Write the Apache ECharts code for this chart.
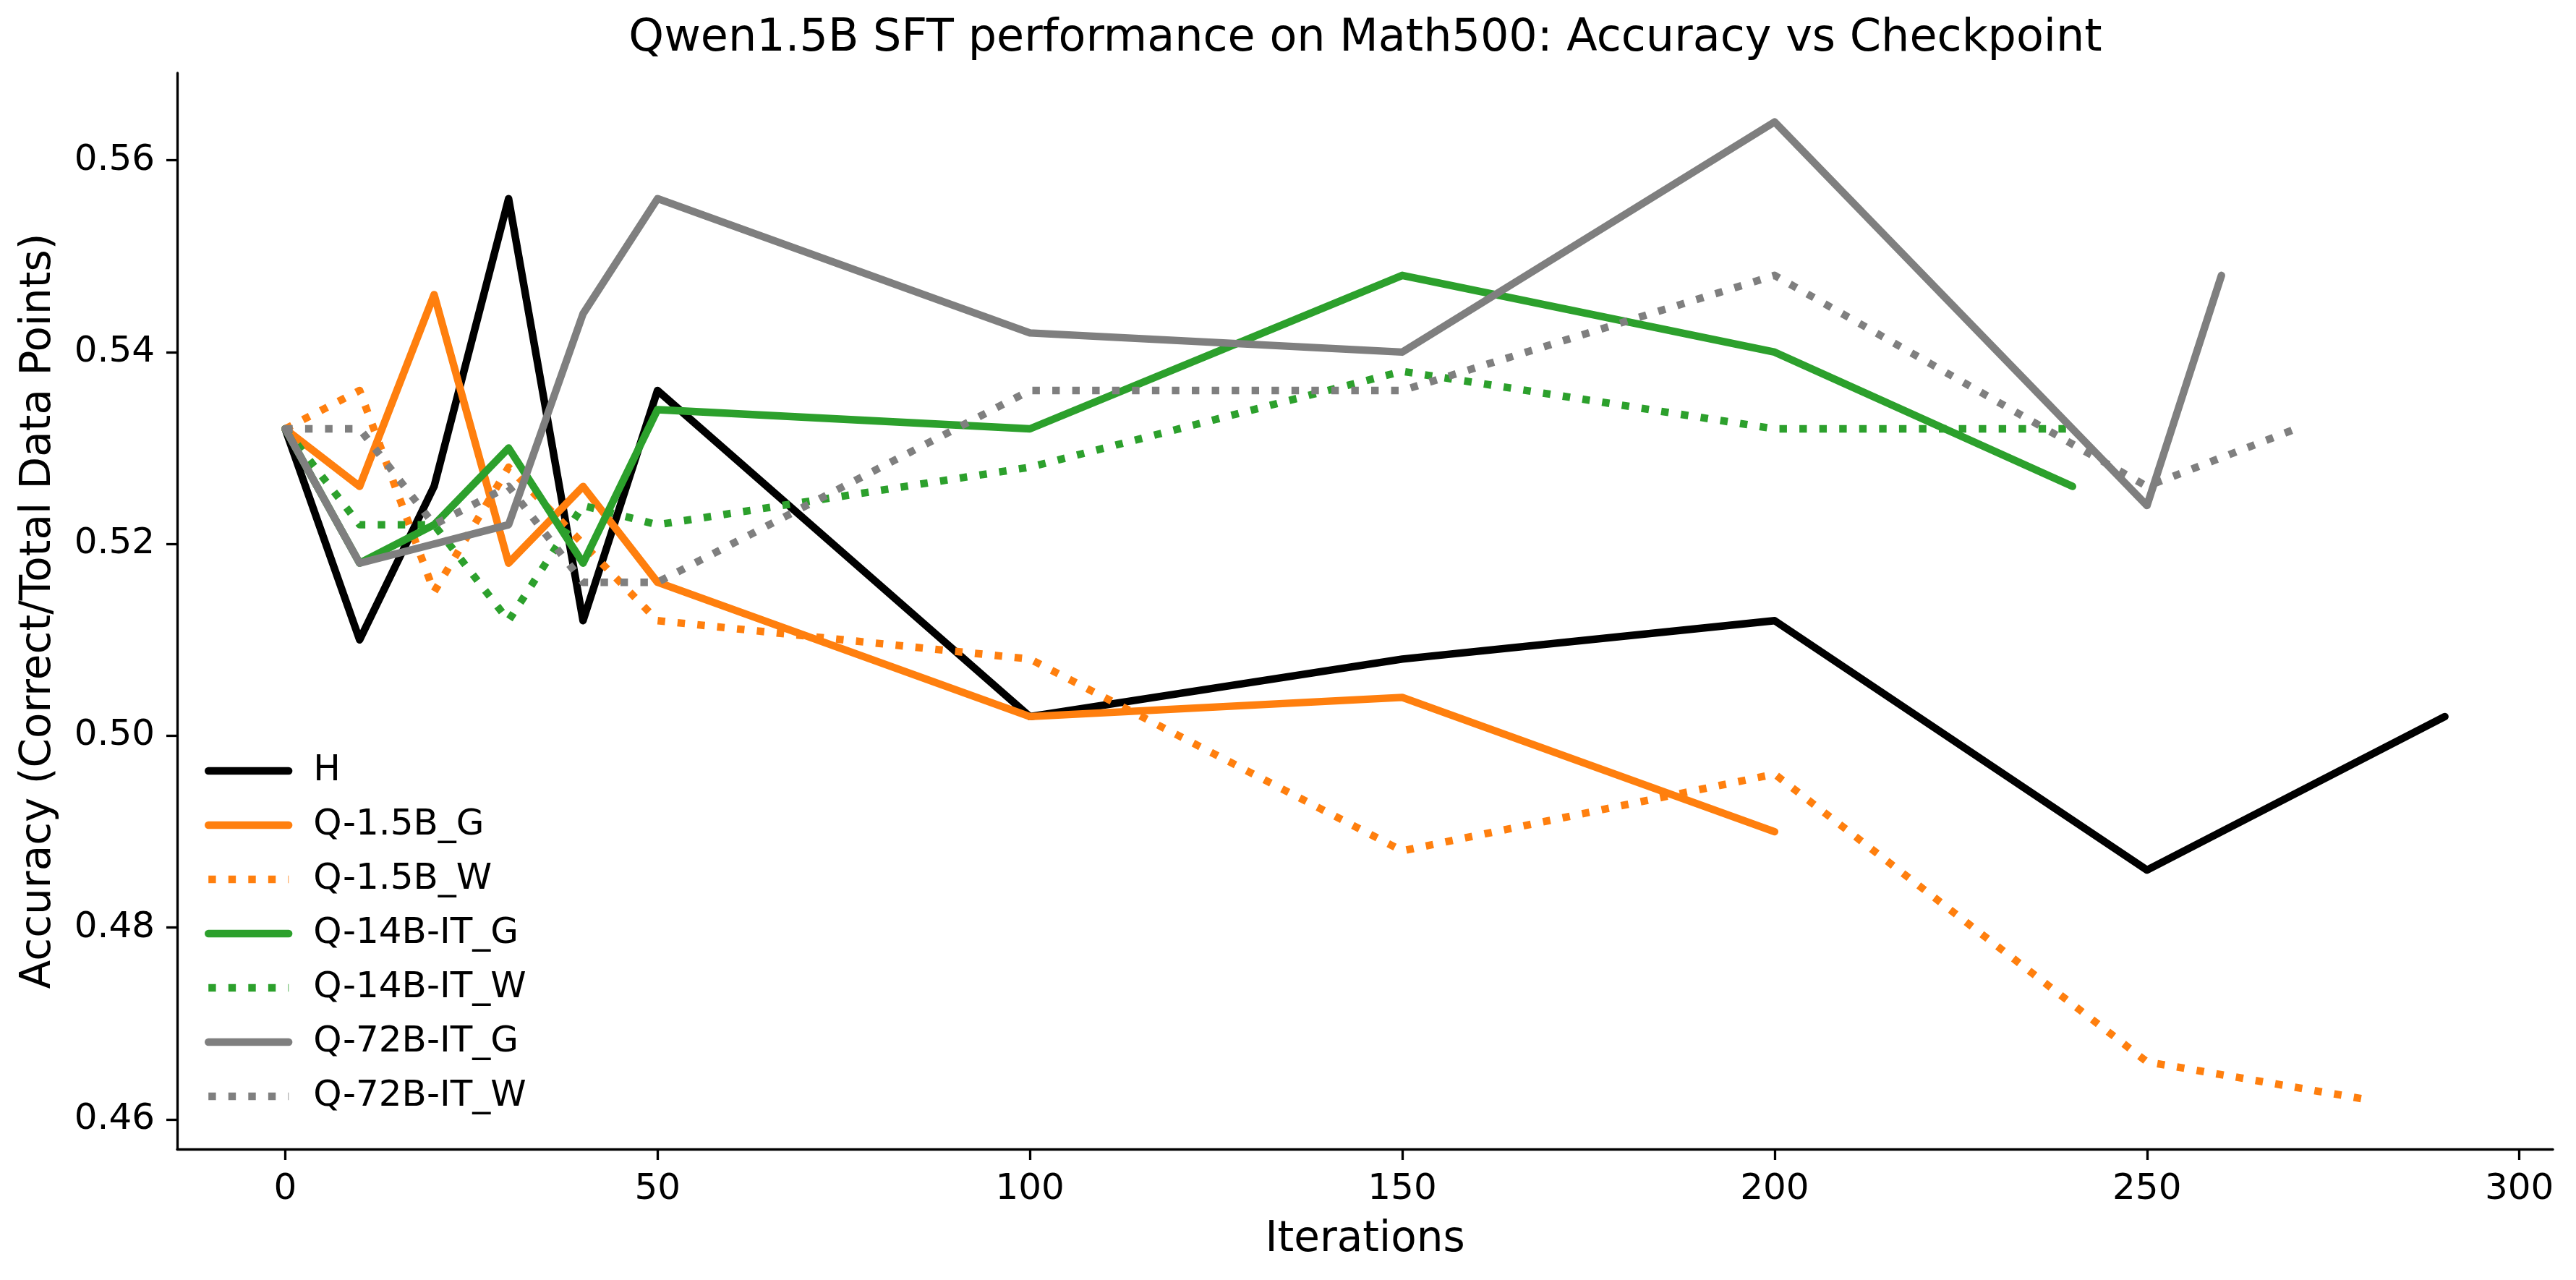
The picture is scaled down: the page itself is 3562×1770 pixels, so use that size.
<!DOCTYPE html>
<html>
<head>
<meta charset="utf-8">
<script src="https://cdn.jsdelivr.net/npm/echarts@6/dist/echarts.min.js"></script>
<style>
  html, body { margin: 0; padding: 0; background: #ffffff; }
  #chart { width: 3562px; height: 1770px; }
</style>
</head>
<body>
<div id="chart"></div>
<script>
// ---- Data ----
const seriesNames = ['H', 'Q-1.5B_G', 'Q-1.5B_W', 'Q-14B-IT_G', 'Q-14B-IT_W', 'Q-72B-IT_G', 'Q-72B-IT_W'];

const iterH     = [0, 10, 20, 30, 40, 50, 100, 150, 200, 250, 290];
const accH      = [0.532, 0.510, 0.526, 0.556, 0.512, 0.536, 0.502, 0.508, 0.512, 0.486, 0.502];

const iterQ15G  = [0, 10, 20, 30, 40, 50, 100, 150, 200];
const accQ15G   = [0.532, 0.526, 0.546, 0.518, 0.526, 0.516, 0.502, 0.504, 0.490];

const iterQ15W  = [0, 10, 20, 30, 40, 50, 100, 150, 200, 250, 280];
const accQ15W   = [0.532, 0.536, 0.515, 0.528, 0.520, 0.512, 0.508, 0.488, 0.496, 0.466, 0.462];

const iterQ14G  = [0, 10, 20, 30, 40, 50, 100, 150, 200, 240];
const accQ14G   = [0.532, 0.518, 0.522, 0.530, 0.518, 0.534, 0.532, 0.548, 0.540, 0.526];

const iterQ14W  = [0, 10, 20, 30, 40, 50, 100, 150, 200, 240];
const accQ14W   = [0.532, 0.522, 0.522, 0.512, 0.524, 0.522, 0.528, 0.538, 0.532, 0.532];

const iterQ72G  = [0, 10, 20, 30, 40, 50, 100, 150, 200, 250, 260];
const accQ72G   = [0.532, 0.518, 0.520, 0.522, 0.544, 0.556, 0.542, 0.540, 0.564, 0.524, 0.548];

const iterQ72W  = [0, 10, 20, 30, 40, 50, 100, 150, 200, 250, 270];
const accQ72W   = [0.532, 0.532, 0.522, 0.526, 0.516, 0.516, 0.536, 0.536, 0.548, 0.526, 0.532];

const xTicks = [0, 50, 100, 150, 200, 250, 300];
const yTicks = [0.46, 0.48, 0.50, 0.52, 0.54, 0.56];

const titleText = 'Qwen1.5B SFT performance on Math500: Accuracy vs Checkpoint';
const xLabel = 'Iterations';
const yLabel = 'Accuracy (Correct/Total Data Points)';

// ---- Styling ----
const FONT = 'DejaVu Sans';
const LW = 10.4;
const DOT = [LW, LW * 1.65];
const seriesStyle = [
  { color: '#000000', dotted: false },
  { color: '#ff7f0e', dotted: false },
  { color: '#ff7f0e', dotted: true },
  { color: '#2ca02c', dotted: false },
  { color: '#2ca02c', dotted: true },
  { color: '#7f7f7f', dotted: false },
  { color: '#7f7f7f', dotted: true }
];
const xs = [iterH, iterQ15G, iterQ15W, iterQ14G, iterQ14W, iterQ72G, iterQ72W];
const ys = [accH, accQ15G, accQ15W, accQ14G, accQ14W, accQ72G, accQ72W];

function pairs(x, y) { return x.map((v, i) => [v, y[i]]); }

// matplotlib-like 5% margins
const allX = [].concat(...xs), allY = [].concat(...ys);
const xMinD = Math.min(...allX), xMaxD = Math.max(...allX);
const yMinD = Math.min(...allY), yMaxD = Math.max(...allY);
const xPad = (xMaxD - xMinD) * 0.05, yPad = (yMaxD - yMinD) * 0.05;

const series = seriesNames.map((name, i) => ({
  name: name,
  type: 'line',
  data: pairs(xs[i], ys[i]),
  showSymbol: false,
  symbol: 'none',
  animation: false,
  emphasis: { disabled: true },
  lineStyle: {
    color: seriesStyle[i].color,
    width: LW,
    type: seriesStyle[i].dotted ? DOT : 'solid',
    cap: seriesStyle[i].dotted ? 'butt' : 'round',
    join: 'round'
  },
  itemStyle: { color: seriesStyle[i].color },
  z: 2 + i
}));

const chart = echarts.init(document.getElementById('chart'), null, { renderer: 'canvas', devicePixelRatio: 1 });
chart.setOption({
  animation: false,
  backgroundColor: '#ffffff',
  textStyle: { fontFamily: FONT },
  title: {
    text: titleText,
    left: 1883,
    top: 18,
    textAlign: 'center',
    textStyle: { fontFamily: FONT, fontSize: 62, fontWeight: 'normal', color: '#000', lineHeight: 62 }
  },
  grid: { left: 245, right: 32, top: 101, bottom: 181, containLabel: false },
  legend: {
    orient: 'vertical',
    left: 283,
    top: 1041,
    padding: 0,
    itemGap: 25,
    itemWidth: 111,
    itemHeight: 25,
    selectedMode: false,
    data: seriesNames,
    itemStyle: { opacity: 0 },
    lineStyle: { width: 'inherit', type: 'inherit', cap: 'inherit', opacity: 1 },
    textStyle: { fontFamily: FONT, fontSize: 50, lineHeight: 50, color: '#000', padding: [0, 0, 0, 29] }
  },
  xAxis: {
    type: 'value',
    min: xMinD - xPad,
    max: xMaxD + xPad,
    name: xLabel,
    nameLocation: 'middle',
    nameGap: 97,
    nameTextStyle: { fontFamily: FONT, fontSize: 58, color: '#000', lineHeight: 58 },
    splitLine: { show: false },
    axisLine: { show: true, onZero: false, lineStyle: { color: '#000', width: 3.3 } },
    axisTick: { show: true, length: 15, customValues: xTicks, lineStyle: { color: '#000', width: 3.3 } },
    axisLabel: { show: true, customValues: xTicks, margin: 31, fontFamily: FONT, fontSize: 50, lineHeight: 50, color: '#000',
      formatter: v => String(v) }
  },
  yAxis: {
    type: 'value',
    min: yMinD - yPad,
    max: yMaxD + yPad,
    name: yLabel,
    nameLocation: 'middle',
    nameGap: 162,
    nameTextStyle: { fontFamily: FONT, fontSize: 58, color: '#000', lineHeight: 58 },
    splitLine: { show: false },
    axisLine: { show: true, onZero: false, lineStyle: { color: '#000', width: 3.3 } },
    axisTick: { show: true, length: 15, customValues: yTicks, lineStyle: { color: '#000', width: 3.3 } },
    axisLabel: { show: true, customValues: yTicks, margin: 31, fontFamily: FONT, fontSize: 50, lineHeight: 50, color: '#000',
      formatter: v => v.toFixed(2) }
  },
  series: series
});
</script>
</body>
</html>
